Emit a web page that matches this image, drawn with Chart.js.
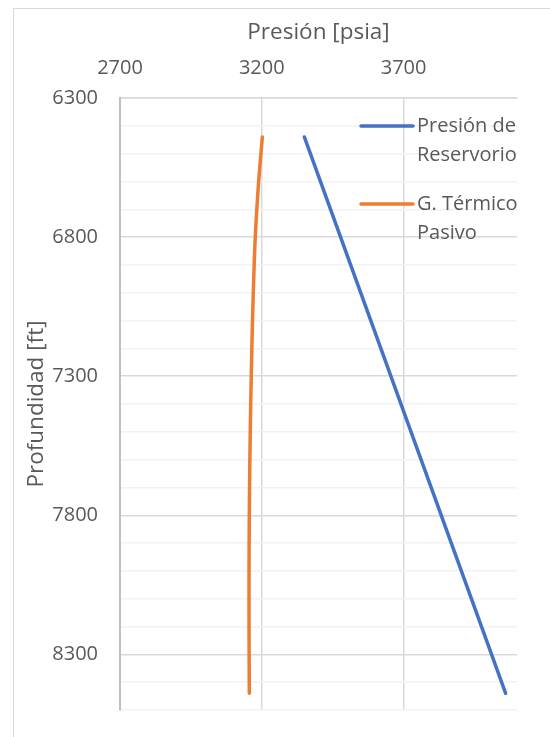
<!DOCTYPE html>
<html>
<head>
<meta charset="utf-8">
<script src="https://cdn.jsdelivr.net/npm/chart.js@4"></script>
<style>
  html, body { margin: 0; padding: 0; background: #fff; }
  #wrap { position: relative; width: 550px; height: 737px; overflow: hidden; }
  #frame { position: absolute; left: 13px; top: 8px; width: 700px; height: 900px; border: 1px solid #d9d9d9; }
  canvas { position: absolute; left: 0; top: 0; }
</style>
</head>
<body>
<div id="wrap">
  <div id="frame"></div>
  <canvas id="c" width="550" height="737"></canvas>
</div>
<script>
// depth (ft) vs pressure (psia)
const depthReservorio = [6440, 8440]
const presionReservorio = [3350, 4060]

const depthTermico = [6440, 6600, 6800, 7000, 7200, 7400, 7600, 7800, 8000, 8200, 8440]
const presionTermico = [3202, 3189, 3177, 3170, 3165, 3161, 3158, 3156, 3155, 3155, 3156]

const labelReservorio = ['Presión de', 'Reservorio']
const labelTermico = ['G. Térmico', 'Pasivo']

const xTicks = [2700, 3200, 3700]
const yMajor = [6300, 6800, 7300, 7800, 8300]

const FONT = 'Open Sans'
const GREY = '#595959'

const toPoints = (xs, ys) => xs.map((x, i) => ({ x, y: ys[i] }))

// legend drawn inside the plot, one multi-line label per series
const sideLegend = {
  id: 'sideLegend',
  afterDraw(chart) {
    const { ctx } = chart
    const rows = [126, 204]
    ctx.save()
    ctx.font = `20px "${FONT}"`
    ctx.fillStyle = GREY
    ctx.textBaseline = 'middle'
    chart.data.datasets.forEach((ds, i) => {
      const y = rows[i]
      ctx.strokeStyle = ds.borderColor
      ctx.lineWidth = 3.5
      ctx.lineCap = 'round'
      ctx.beginPath()
      ctx.moveTo(361, y)
      ctx.lineTo(413, y)
      ctx.stroke()
      ds.label.forEach((line, j) => ctx.fillText(line, 417, y + j * 29))
    })
    ctx.restore()
  },
}

new Chart(document.getElementById('c'), {
  type: 'scatter',
  data: {
    datasets: [
      {
        label: labelReservorio,
        data: toPoints(presionReservorio, depthReservorio),
        showLine: true, borderColor: '#4472C4', borderWidth: 3.5,
        pointRadius: 0, borderCapStyle: 'round',
      },
      {
        label: labelTermico,
        data: toPoints(presionTermico, depthTermico),
        showLine: true, borderColor: '#ED7D31', borderWidth: 3.5, tension: 0.3,
        pointRadius: 0, borderCapStyle: 'round', borderJoinStyle: 'round',
      },
    ],
  },
  options: {
    responsive: false,
    animation: false,
    layout: { padding: { left: 0, top: 0, right: 33, bottom: 27 } },
    plugins: { legend: { display: false }, tooltip: { enabled: false } },
    scales: {
      x: {
        position: 'top',
        min: 2700, max: 4100,
        afterBuildTicks: s => { s.ticks = xTicks.map(value => ({ value })) },
        afterFit: s => { s.height = 98; s.paddingLeft = 0; s.paddingRight = 0 },
        ticks: {
          color: GREY, font: { family: FONT, size: 20 }, padding: 18, maxRotation: 0,
          callback: v => String(v),
        },
        grid: { color: '#d9d9d9', lineWidth: 1.5, drawTicks: false },
        border: { color: '#d9d9d9', width: 1.5 },
        title: { display: true, text: 'Presión [psia]', color: GREY, font: { family: FONT, size: 22.5 }, padding: { top: 19 } },
      },
      y: {
        reverse: true,
        min: 6300, max: 8500,
        ticks: {
          stepSize: 100, autoSkip: false, color: GREY, padding: 22,
          font: { family: FONT, size: 20 },
          callback: v => yMajor.includes(v) ? String(v) : '',
        },
        afterFit: s => { s.width = 120; s.paddingTop = 0; s.paddingBottom = 0 },
        grid: {
          drawTicks: false, lineWidth: 1.5,
          color: c => yMajor.includes(c.tick.value) ? '#d9d9d9' : '#f2f2f2',
        },
        border: { color: '#bfbfbf', width: 2 },
        title: { display: true, text: 'Profundidad [ft]', color: GREY, font: { family: FONT, size: 22.5 }, padding: { top: 23 } },
      },
    },
  },
  plugins: [sideLegend],
})
</script>
</body>
</html>
